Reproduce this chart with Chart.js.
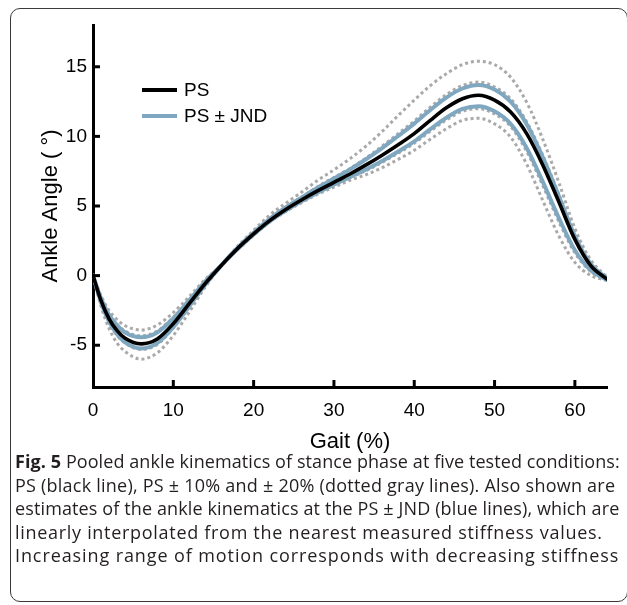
<!DOCTYPE html>
<html>
<head>
<meta charset="utf-8">
<script src="https://cdn.jsdelivr.net/npm/chart.js@4.4.1/dist/chart.umd.min.js"></script>
<style>
  html, body { margin: 0; padding: 0; background: #fff; }
  body { width: 627px; height: 605px; position: relative; overflow: hidden; }
  #frame { position: absolute; left: 10px; top: 8px; width: 618px; height: 594px;
           border: 1px solid #3a3a3a; border-radius: 10px; box-sizing: border-box; }
  #wrap { position: absolute; left: 0; top: 0; width: 627px; height: 470px; }
  #caption { position: absolute; left: 15px; top: 450px; width: 610px;
             font-family: "Open Sans", "Lato", sans-serif; font-size: 18px; line-height: 23.6px; color: #231f20; }
  #caption div { white-space: nowrap; }
  #caption b { font-weight: 700; }
</style>
</head>
<body>
<div id="frame"></div>
<div id="wrap"><canvas id="c" width="627" height="470"></canvas></div>
<div id="caption">
  <div style="letter-spacing:0.08px"><b>Fig. 5</b> Pooled ankle kinematics of stance phase at five tested conditions:</div>
  <div style="letter-spacing:0.23px">PS (black line), PS ± 10% and ± 20% (dotted gray lines). Also shown are</div>
  <div style="letter-spacing:0.12px">estimates of the ankle kinematics at the PS ± JND (blue lines), which are</div>
  <div style="letter-spacing:0.7px">linearly interpolated from the nearest measured stiffness values.</div>
  <div style="letter-spacing:0.9px">Increasing range of motion corresponds with decreasing stiffness</div>
</div>
<script>
// ---- data ----
const gaitPct    = [0, 1, 2, 3, 4, 6, 8, 10, 12, 14, 16, 18, 20, 22, 24, 26, 28, 30, 32, 34, 36, 38, 40, 42, 44, 46, 48, 50, 52, 54, 56, 58, 60, 62, 64];
const psAngle    = [0, -1.8, -3.1, -3.95, -4.5, -4.9, -4.55, -3.45, -2.0, -0.55, 0.75, 1.95, 3.0, 3.95, 4.75, 5.45, 6.1, 6.7, 7.3, 7.95, 8.65, 9.4, 10.2, 11.15, 12.05, 12.7, 12.95, 12.6, 11.75, 10.2, 7.95, 5.3, 2.6, 0.7, -0.25];
const psMinusJnd = [0, -1.92, -3.31, -4.22, -4.79, -5.23, -4.85, -3.71, -2.18, -0.63, 0.75, 2.0, 3.08, 4.07, 4.89, 5.62, 6.33, 6.97, 7.63, 8.36, 9.16, 10.03, 10.92, 11.9, 12.79, 13.44, 13.69, 13.37, 12.5, 10.88, 8.51, 5.72, 2.84, 0.82, -0.2];
const psPlusJnd  = [0, -1.64, -2.82, -3.57, -4.08, -4.43, -4.08, -3.07, -1.76, -0.41, 0.75, 1.9, 2.95, 3.9, 4.68, 5.36, 5.98, 6.54, 7.09, 7.62, 8.23, 8.91, 9.64, 10.52, 11.34, 11.97, 12.17, 11.8, 10.9, 9.17, 6.75, 4.15, 1.82, 0.37, -0.3];
const psMinus10  = [0, -1.95, -3.35, -4.3, -4.85, -5.3, -4.95, -3.75, -2.25, -0.65, 0.75, 2.0, 3.1, 4.1, 4.9, 5.65, 6.4, 7.05, 7.7, 8.45, 9.3, 10.2, 11.1, 12.1, 13.0, 13.65, 13.9, 13.55, 12.7, 11.05, 8.65, 5.85, 2.9, 0.85, -0.2];
const psPlus10   = [0, -1.6, -2.75, -3.5, -3.98, -4.32, -3.97, -2.99, -1.71, -0.38, 0.75, 1.89, 2.94, 3.89, 4.66, 5.33, 5.95, 6.5, 7.04, 7.54, 8.13, 8.79, 9.5, 10.37, 11.18, 11.8, 11.99, 11.61, 10.71, 8.92, 6.47, 3.88, 1.64, 0.29, -0.31];
const psMinus20  = [0, -2.2, -3.8, -4.85, -5.45, -6.0, -5.55, -4.3, -2.6, -0.8, 0.75, 2.1, 3.25, 4.35, 5.2, 6.0, 6.85, 7.6, 8.4, 9.3, 10.35, 11.5, 12.6, 13.65, 14.5, 15.15, 15.4, 15.15, 14.25, 12.45, 9.8, 6.7, 3.4, 1.1, -0.1];
const psPlus20   = [0, -1.45, -2.5, -3.15, -3.6, -3.9, -3.55, -2.65, -1.5, -0.25, 0.75, 1.85, 2.9, 3.85, 4.6, 5.25, 5.85, 6.35, 6.85, 7.25, 7.75, 8.35, 9.0, 9.8, 10.55, 11.15, 11.3, 10.9, 9.95, 8.0, 5.4, 2.85, 0.95, 0.0, -0.35];
const xTicks = [0, 10, 20, 30, 40, 50, 60];
const yTicks = [-5, 0, 5, 10, 15];
const legendLabels = ['PS', 'PS \u00b1 JND'];

const BLACK = '#000000';
const BLUE = '#7fa8c0';
const GRAY = '#a9a9a9';
const FONT = '"Liberation Sans", Arial, Helvetica, sans-serif';

const pts = arr => gaitPct.map((x, i) => ({ x: x, y: arr[i] }));

function ds(label, arr, color, width, dash, order) {
  return { label, data: pts(arr), borderColor: color, borderWidth: width,
           borderDash: dash, order, pointRadius: 0, fill: false,
           cubicInterpolationMode: 'monotone', borderCapStyle: dash.length ? 'butt' : 'round',
           borderJoinStyle: 'round' };
}

const datasets = [
  ds('PS', psAngle, BLACK, 3.6, [], 0),
  ds('PS - JND', psMinusJnd, BLUE, 4, [], 1),
  ds('PS + JND', psPlusJnd, BLUE, 4, [], 1),
  ds('PS - 10%', psMinus10, GRAY, 3, [3, 3], 2),
  ds('PS + 10%', psPlus10, GRAY, 3, [3, 3], 2),
  ds('PS - 20%', psMinus20, GRAY, 3, [3, 3], 2),
  ds('PS + 20%', psPlus20, GRAY, 3, [3, 3], 2)
];

const inwardTicks = {
  id: 'inwardTicks',
  afterDatasetsDraw(chart) {
    const { ctx, chartArea, scales } = chart;
    ctx.save();
    ctx.strokeStyle = BLACK;
    ctx.lineWidth = 3;
    ctx.lineCap = 'butt';
    yTicks.forEach(v => {
      const y = scales.y.getPixelForValue(v);
      ctx.beginPath(); ctx.moveTo(chartArea.left, y); ctx.lineTo(chartArea.left + 7, y); ctx.stroke();
    });
    xTicks.forEach(v => {
      if (v === 0) return;
      const x = scales.x.getPixelForValue(v);
      ctx.beginPath(); ctx.moveTo(x, chartArea.bottom); ctx.lineTo(x, chartArea.bottom - 7); ctx.stroke();
    });
    // legend (inside plot area)
    const items = [{ text: legendLabels[0], color: BLACK, w: 4 }, { text: legendLabels[1], color: BLUE, w: 4 }];
    ctx.font = '19px ' + FONT;
    ctx.textBaseline = 'middle';
    ctx.textAlign = 'left';
    items.forEach((it, i) => {
      const y = chartArea.top + 65 + i * 26;
      const x0 = chartArea.left + 49;
      ctx.strokeStyle = it.color; ctx.lineWidth = it.w;
      ctx.beginPath(); ctx.moveTo(x0, y); ctx.lineTo(x0 + 35, y); ctx.stroke();
      ctx.fillStyle = BLACK;
      ctx.fillText(it.text, x0 + 42, y + 1);
    });
    ctx.restore();
  }
};

new Chart(document.getElementById('c'), {
  type: 'line',
  data: { datasets },
  options: {
    responsive: false,
    animation: false,
    events: [],
    layout: { padding: { left: 0, top: 25, right: 20, bottom: 15 } },
    plugins: { legend: { display: false }, tooltip: { enabled: false } },
    scales: {
      x: {
        type: 'linear', min: 0, max: 64,
        afterBuildTicks: s => { s.ticks = xTicks.map(v => ({ value: v })); },
        afterFit: s => { s.height = 68; },
        grid: { display: false, drawTicks: false },
        border: { display: true, color: BLACK, width: 3 },
        ticks: { color: BLACK, font: { family: FONT, size: 19 }, padding: 12, maxRotation: 0 },
        title: { display: true, text: 'Gait (%)', color: BLACK, font: { family: FONT, size: 22 }, padding: 0 }
      },
      y: {
        type: 'linear', min: -8, max: 18,
        afterBuildTicks: s => { s.ticks = yTicks.map(v => ({ value: v })); },
        afterFit: s => { s.width = 93; },
        grid: { display: false, drawTicks: false },
        border: { display: true, color: BLACK, width: 3 },
        ticks: { color: BLACK, font: { family: FONT, size: 19 }, padding: 6 },
        title: { display: true, text: 'Ankle Angle ( \u00b0)', color: BLACK, font: { family: FONT, size: 22 }, padding: { top: 38, bottom: 0 } }
      }
    }
  },
  plugins: [inwardTicks]
});
</script>
</body>
</html>
